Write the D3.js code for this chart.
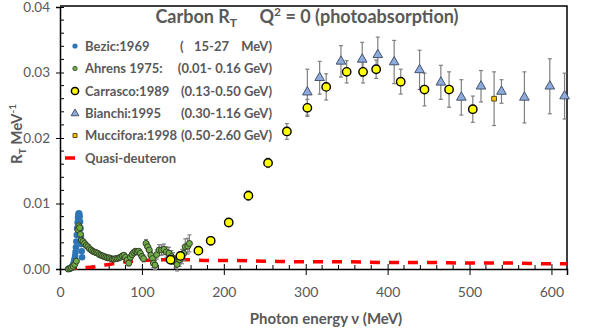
<!DOCTYPE html>
<html lang="en">
<head>
<meta charset="UTF-8" />
<title>Carbon RT photoabsorption</title>
<script src="https://d3js.org/d3.v7.min.js"></script>
<style>
  body { margin: 0; background: #fff; }
  text { font-family: Lato, "Open Sans", sans-serif; fill: #595959; }
  .tick text { font-size: 14px; }
  .lab { font-weight: bold; }
</style>
</head>
<body>
<div id="chart"></div>
<script>
// ---- data ----
// Bezic:1969 (15-27 MeV)
var bezicE = [11, 12, 13, 14, 15, 16, 16.5, 17, 17.5, 18, 18.5, 19, 19.5, 20, 20.5, 21, 21.5, 22, 22.5, 23, 23.5, 24, 24.5, 25, 25.5, 26, 26.5, 27];
var bezicR = [0.0000, 0.0001, 0.0001, 0.0002, 0.0004, 0.0006, 0.0008, 0.0010, 0.0013, 0.0016, 0.0020, 0.0026, 0.0033, 0.0042, 0.0052, 0.0062, 0.0071, 0.0078, 0.0083, 0.0085, 0.0084, 0.0080, 0.0072, 0.0062, 0.0050, 0.0038, 0.0027, 0.0018];

// Ahrens 1975 (0.01-0.16 GeV)
var ahrensE = [10, 12, 14, 16, 18, 20, 22, 23, 24, 25, 26, 28, 30, 32, 34, 36, 38, 40, 42, 44, 46, 48, 50, 52, 54, 56, 58, 60, 62, 64, 66, 68, 70, 72, 74, 76, 78, 80, 82, 84, 86, 88, 90, 92, 94, 96, 98, 100, 102, 105, 107, 109, 111, 113, 114, 116, 118, 121, 124, 127, 130, 133, 136, 138, 141, 143, 146, 149, 151, 153, 156, 158];
var ahrensR = [0.0000, 0.0001, 0.0002, 0.0004, 0.0007, 0.0012, 0.0060, 0.0066, 0.0063, 0.0053, 0.0044, 0.0042, 0.0039, 0.0036, 0.0034, 0.0031, 0.0029, 0.0027, 0.0026, 0.0025, 0.0024, 0.0022, 0.0021, 0.0020, 0.0019, 0.0018, 0.0017, 0.0017, 0.0016, 0.0015, 0.0015, 0.0016, 0.0016, 0.0017, 0.0018, 0.0020, 0.0021, 0.0018, 0.0014, 0.0009, 0.0018, 0.0022, 0.0025, 0.0027, 0.0026, 0.0027, 0.0024, 0.0019, 0.0016, 0.0039, 0.0034, 0.0029, 0.0021, 0.0016, 0.0009, 0.0006, 0.0022, 0.0029, 0.0029, 0.0030, 0.0026, 0.0024, 0.0019, 0.0016, 0.0011, 0.0007, 0.0014, 0.0019, 0.0024, 0.0034, 0.0035, 0.0039];
var ahrensErr = [0.0001, 0.0001, 0.0001, 0.0001, 0.0001, 0.0001, 0.0002, 0.0002, 0.0002, 0.0002, 0.0002, 0.0002, 0.0002, 0.0002, 0.0002, 0.0002, 0.0002, 0.0002, 0.0002, 0.0002, 0.0002, 0.0002, 0.0002, 0.0002, 0.0002, 0.0002, 0.0002, 0.0002, 0.0002, 0.0002, 0.0003, 0.0003, 0.0003, 0.0003, 0.0003, 0.0003, 0.0003, 0.0003, 0.0004, 0.0004, 0.0004, 0.0004, 0.0004, 0.0004, 0.0004, 0.0004, 0.0005, 0.0005, 0.0005, 0.0006, 0.0006, 0.0006, 0.0006, 0.0006, 0.0007, 0.0007, 0.0007, 0.0008, 0.0008, 0.0008, 0.0008, 0.0009, 0.0009, 0.0009, 0.0009, 0.0010, 0.0010, 0.0011, 0.0011, 0.0012, 0.0012, 0.0013];

// Carrasco:1989 (0.13-0.50 GeV)
var carrascoE = [135, 147, 169, 184, 206, 230, 254, 277, 302, 325, 350, 370, 386, 416, 445, 475, 504];
var carrascoR = [0.0014, 0.0020, 0.0028, 0.0043, 0.0071, 0.0112, 0.0162, 0.0210, 0.0246, 0.0278, 0.0301, 0.0301, 0.0305, 0.0286, 0.0274, 0.0274, 0.0244];
var carrascoErr = [0.0005, 0.0006, 0.0006, 0.0006, 0.0006, 0.0007, 0.0007, 0.0012, 0.0013, 0.0020, 0.0017, 0.0017, 0.0014, 0.0019, 0.0025, 0.0027, 0.0020];

// Bianchi:1995 (0.30-1.16 GeV)
var bianchiE = [302, 317, 343, 369, 388, 408, 439, 465, 490, 514, 539, 567, 598, 616];
var bianchiR = [0.0270, 0.0292, 0.0317, 0.0320, 0.0327, 0.0316, 0.0304, 0.0285, 0.0262, 0.0279, 0.0271, 0.0262, 0.0279, 0.0264];
var bianchiErr = [0.0035, 0.0025, 0.0024, 0.0026, 0.0027, 0.0033, 0.0030, 0.0026, 0.0027, 0.0024, 0.0018, 0.0039, 0.0042, 0.0035];

// Muccifora:1998 (0.50-2.60 GeV)
var mucciforaE = [530];
var mucciforaR = [0.0260];
var mucciforaErr = [0.0041];

// Quasi-deuteron curve
var qdE = [8, 20, 30, 40, 50, 60, 70, 80, 90, 100, 120, 140, 160, 180, 200, 250, 300, 350, 400, 450, 500, 550, 600, 619];
var qdR = [0.0000, 0.0001, 0.0002, 0.0003, 0.0005, 0.0007, 0.0009, 0.0011, 0.0012, 0.0013, 0.0014, 0.0014, 0.0014, 0.0013, 0.0013, 0.0012, 0.0011, 0.0011, 0.0010, 0.0010, 0.0009, 0.0009, 0.0008, 0.0008];

var xTicks = [0, 100, 200, 300, 400, 500, 600];
var yTicks = [0, 0.01, 0.02, 0.03, 0.04];

// ---- layout ----
var W = 590, H = 333;
var plotL = 60, plotR = 567, plotT = 7, plotB = 269;

var svg = d3.select("#chart").append("svg")
    .attr("width", W)
    .attr("height", H);

var x = d3.scaleLinear().domain([0, 619]).range([plotL, plotR]);
var y = d3.scaleLinear().domain([0, 0.04]).range([plotB, plotT]);

function zip(a, b, e) {
  return a.map(function(v, i) { return {x: v, y: b[i], e: e ? e[i] : 0}; });
}

// frame (top and right)
svg.append("path")
  .attr("d", "M" + plotL + "," + (plotT - 1) + "H" + plotR + "V" + plotB)
  .attr("fill", "none")
  .attr("stroke", "#000")
  .attr("stroke-width", 1.5);

// minor ticks (inside)
var minorX = d3.range(20, 619, 20).filter(function(d) { return d % 100 !== 0; });
svg.append("g").selectAll("line").data(minorX).enter().append("line")
  .attr("x1", function(d) { return x(d); }).attr("x2", function(d) { return x(d); })
  .attr("y1", plotB).attr("y2", plotB - 4)
  .attr("stroke", "#000");
var minorY = d3.range(0.002, 0.04, 0.002).filter(function(d) { return Math.round(d * 1000) % 10 !== 0; });
svg.append("g").selectAll("line").data(minorY).enter().append("line")
  .attr("y1", function(d) { return y(d); }).attr("y2", function(d) { return y(d); })
  .attr("x1", plotL).attr("x2", plotL + 4)
  .attr("stroke", "#000");

// axes
var xAxis = svg.append("g")
  .attr("transform", "translate(0," + plotB + ")")
  .call(d3.axisBottom(x).tickValues(xTicks).tickSize(6).tickPadding(12).tickFormat(d3.format("d")));
xAxis.selectAll(".tick line").attr("y1", -5);
var yAxis = svg.append("g")
  .attr("transform", "translate(" + plotL + ",0)")
  .call(d3.axisLeft(y).tickValues(yTicks).tickSize(4).tickPadding(6).tickFormat(d3.format(".2f")));
yAxis.selectAll(".tick line").attr("x1", 4);
yAxis.selectAll(".tick text").style("font-size", "13.5px");
svg.selectAll(".domain").attr("stroke", "#000").attr("stroke-width", 1.5);
svg.selectAll(".tick line").attr("stroke", "#000");
svg.selectAll(".tick text").attr("fill", "#595959");

// quasi-deuteron curve
svg.append("path")
  .datum(zip(qdE, qdR))
  .attr("fill", "none")
  .attr("stroke", "#ff0000")
  .attr("stroke-width", 3.5)
  .attr("stroke-dasharray", "10,9")
  .attr("d", d3.line().curve(d3.curveMonotoneX)
    .x(function(d) { return x(d.x); })
    .y(function(d) { return y(d.y); }));

// error bars
function errorBars(data) {
  var g = svg.append("g").attr("stroke", "#808080").attr("stroke-width", 1.2);
  g.selectAll("line.v").data(data).enter().append("line")
    .attr("x1", function(d) { return x(d.x); }).attr("x2", function(d) { return x(d.x); })
    .attr("y1", function(d) { return y(d.y - d.e); }).attr("y2", function(d) { return y(d.y + d.e); });
  [1, -1].forEach(function(s) {
    g.selectAll("line.c" + s).data(data).enter().append("line")
      .attr("x1", function(d) { return x(d.x) - 2; }).attr("x2", function(d) { return x(d.x) + 2; })
      .attr("y1", function(d) { return y(d.y + s * d.e); }).attr("y2", function(d) { return y(d.y + s * d.e); });
  });
}

var bezic = zip(bezicE, bezicR);
var ahrens = zip(ahrensE, ahrensR, ahrensErr);
var carrasco = zip(carrascoE, carrascoR, carrascoErr);
var bianchi = zip(bianchiE, bianchiR, bianchiErr);
var muccifora = zip(mucciforaE, mucciforaR, mucciforaErr);

errorBars(ahrens);
errorBars(carrasco);
errorBars(bianchi);
errorBars(muccifora);

// Bezic
svg.append("g").selectAll("circle").data(bezic).enter().append("circle")
  .attr("cx", function(d) { return x(d.x); })
  .attr("cy", function(d) { return y(d.y); })
  .attr("r", 3.3)
  .attr("fill", "#2e75b6");

// Ahrens
svg.append("g").selectAll("circle").data(ahrens).enter().append("circle")
  .attr("cx", function(d) { return x(d.x); })
  .attr("cy", function(d) { return y(d.y); })
  .attr("r", 3)
  .attr("fill", "#70ad47")
  .attr("stroke", "#333f2a")
  .attr("stroke-width", 1);

// Carrasco
svg.append("g").selectAll("circle").data(carrasco).enter().append("circle")
  .attr("cx", function(d) { return x(d.x); })
  .attr("cy", function(d) { return y(d.y); })
  .attr("r", 4.2)
  .attr("fill", "#ffff00")
  .attr("stroke", "#000")
  .attr("stroke-width", 1.4);

// Bianchi
var tri = d3.symbol().type(d3.symbolTriangle).size(40);
svg.append("g").selectAll("path").data(bianchi).enter().append("path")
  .attr("transform", function(d) { return "translate(" + x(d.x) + "," + y(d.y) + ")"; })
  .attr("d", tri)
  .attr("fill", "#8faadc")
  .attr("stroke", "#44546a")
  .attr("stroke-width", 1);

// Muccifora
var sq = d3.symbol().type(d3.symbolSquare).size(22);
svg.append("g").selectAll("path").data(muccifora).enter().append("path")
  .attr("transform", function(d) { return "translate(" + x(d.x) + "," + y(d.y) + ")"; })
  .attr("d", sq)
  .attr("fill", "#ffc000")
  .attr("stroke", "#5a4a1a")
  .attr("stroke-width", 1);

// title
var title = svg.append("text").attr("class", "lab")
  .attr("x", 307).attr("y", 23)
  .attr("text-anchor", "middle")
  .style("font-size", "18px");
title.append("tspan").text("Carbon R");
title.append("tspan").attr("dy", 4).style("font-size", "12px").text("T");
title.append("tspan").attr("dy", -4).text("\u2003\u2002Q");
title.append("tspan").attr("dy", -7).style("font-size", "12px").text("2");
title.append("tspan").attr("dy", 7).text(" = 0 (photoabsorption)");

// legend
var legY = [46, 68.5, 91, 113, 135.5, 158];
var leg = svg.append("g").style("font-size", "13px").attr("class", "lab");
leg.append("circle").attr("cx", 75).attr("cy", legY[0]).attr("r", 2.6).attr("fill", "#2e75b6");
leg.append("circle").attr("cx", 75).attr("cy", legY[1]).attr("r", 2.2).attr("fill", "#70ad47").attr("stroke", "#333f2a").attr("stroke-width", 0.8);
leg.append("circle").attr("cx", 75).attr("cy", legY[2]).attr("r", 3.6).attr("fill", "#ffff00").attr("stroke", "#000").attr("stroke-width", 1.5);
leg.append("path").attr("transform", "translate(75," + (legY[3] + 0.5) + ")").attr("d", d3.symbol().type(d3.symbolTriangle).size(26)).attr("fill", "#8faadc").attr("stroke", "#44546a");
leg.append("path").attr("transform", "translate(75," + legY[4] + ")").attr("d", d3.symbol().type(d3.symbolSquare).size(16)).attr("fill", "#ffc000").attr("stroke", "#5a4a1a");
leg.append("line").attr("x1", 65).attr("x2", 75).attr("y1", legY[5]).attr("y2", legY[5]).attr("stroke", "#ff0000").attr("stroke-width", 3.5);

var legNames = ["Bezic:1969", "Ahrens 1975:", "Carrasco:1989", "Bianchi:1995", "Muccifora:1998", "Quasi-deuteron"];
var legRanges = ["", "(0.01- 0.16 GeV)", "(0.13-0.50 GeV)", "(0.30-1.16 GeV)", "(0.50-2.60 GeV)", ""];
legNames.forEach(function(n, i) {
  leg.append("text").attr("x", 85).attr("y", legY[i]).attr("dy", "0.35em").text(n);
  if (legRanges[i]) {
    leg.append("text").attr("x", 272).attr("y", legY[i]).attr("dy", "0.35em").attr("text-anchor", "end").text(legRanges[i]);
  }
});
leg.append("text").attr("x", 180).attr("y", legY[0]).attr("dy", "0.35em").text("(");
leg.append("text").attr("x", 194).attr("y", legY[0]).attr("dy", "0.35em").text("15-27");
leg.append("text").attr("x", 272).attr("y", legY[0]).attr("dy", "0.35em").attr("text-anchor", "end").text("MeV)");

// axis titles
svg.append("text").attr("class", "lab")
  .attr("x", 326).attr("y", 324)
  .attr("text-anchor", "middle")
  .style("font-size", "15px")
  .text("Photon energy \u03bd (MeV)");

var yl = svg.append("text").attr("class", "lab")
  .attr("transform", "translate(22,134) rotate(-90)")
  .attr("text-anchor", "middle")
  .style("font-size", "15px");
yl.append("tspan").text("R");
yl.append("tspan").attr("dy", 4).style("font-size", "10px").text("T");
yl.append("tspan").attr("dy", -4).text(" MeV");
yl.append("tspan").attr("dy", -6).style("font-size", "10px").text("-1");
</script>
</body>
</html>
